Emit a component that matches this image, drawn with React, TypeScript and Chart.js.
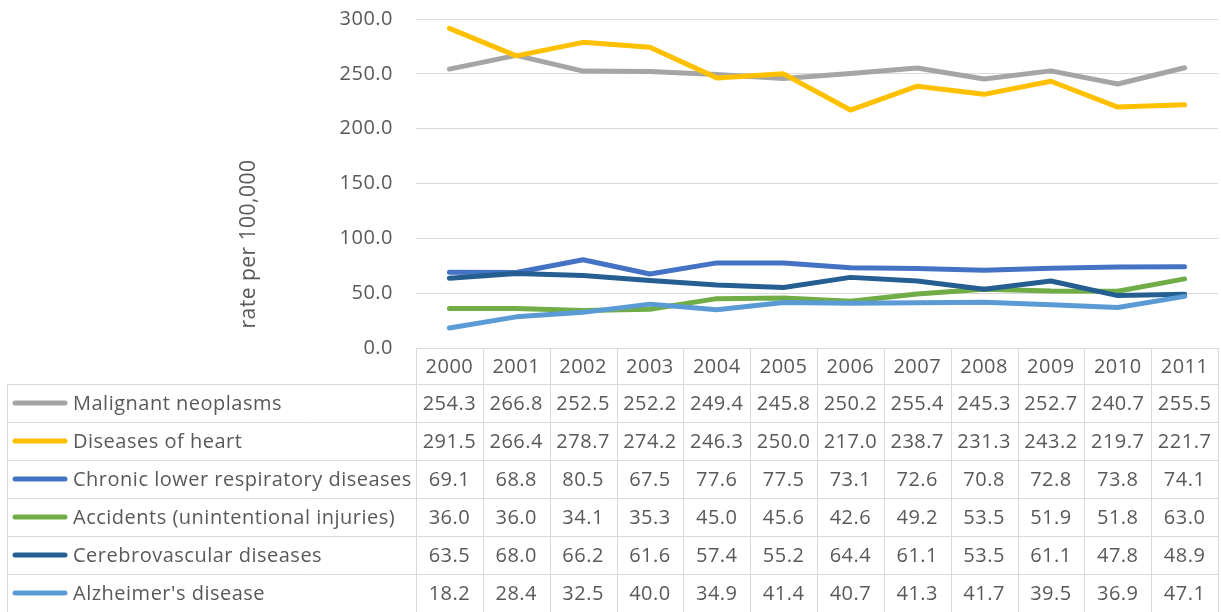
import React, { useEffect, useRef } from "react";
import { Chart, registerables } from "chart.js";

Chart.register(...registerables);

const years = ["2000", "2001", "2002", "2003", "2004", "2005", "2006", "2007", "2008", "2009", "2010", "2011"];
const seriesNames = [
  "Malignant neoplasms",
  "Diseases of heart",
  "Chronic lower respiratory diseases",
  "Accidents (unintentional injuries)",
  "Cerebrovascular diseases",
  "Alzheimer's disease",
];
const malignant = [254.3, 266.8, 252.5, 252.2, 249.4, 245.8, 250.2, 255.4, 245.3, 252.7, 240.7, 255.5];
const heart = [291.5, 266.4, 278.7, 274.2, 246.3, 250.0, 217.0, 238.7, 231.3, 243.2, 219.7, 221.7];
const chronic = [69.1, 68.8, 80.5, 67.5, 77.6, 77.5, 73.1, 72.6, 70.8, 72.8, 73.8, 74.1];
const accidents = [36.0, 36.0, 34.1, 35.3, 45.0, 45.6, 42.6, 49.2, 53.5, 51.9, 51.8, 63.0];
const cerebro = [63.5, 68.0, 66.2, 61.6, 57.4, 55.2, 64.4, 61.1, 53.5, 61.1, 47.8, 48.9];
const alzheimer = [18.2, 28.4, 32.5, 40.0, 34.9, 41.4, 40.7, 41.3, 41.7, 39.5, 36.9, 47.1];
const seriesColors = ["#A5A5A5", "#FFC000", "#4472C4", "#70AD47", "#255E91", "#5B9BD5"];
const yTitle = "rate per 100,000";

const FONT = "'Open Sans', sans-serif";
const FSIZE = 20;
const SPACING = "0.5px";
const TEXT = "#595959";
const GRID = "#D9D9D9";
const LINE_W = 5;

const allSeries = [malignant, heart, chronic, accidents, cerebro, alzheimer];

const tablePlugin = {
  id: "dataTable",
  beforeLayout(chart: any) {
    (chart.ctx as any).letterSpacing = SPACING;
  },
  beforeDraw(chart: any) {
    (chart.ctx as any).letterSpacing = SPACING;
  },
  afterDraw(chart: any) {
    const ctx = chart.ctx as CanvasRenderingContext2D;
    const area = chart.chartArea;
    const xs = chart.scales.x;
    const n = years.length;
    const colW = (area.right - area.left) / n;
    const top = area.bottom;
    const headH = 36;
    const rowH = 38;
    const tableLeft = 7;
    const bottom = top + headH + rowH * allSeries.length;
    ctx.save();
    (ctx as any).letterSpacing = SPACING;
    ctx.strokeStyle = GRID;
    ctx.lineWidth = 1;
    ctx.beginPath();
    ctx.moveTo(area.left, Math.round(top) + 0.5);
    ctx.lineTo(area.right, Math.round(top) + 0.5);
    for (let r = 0; r <= allSeries.length; r++) {
      const y = Math.round(top + headH + r * rowH) + 0.5;
      ctx.moveTo(tableLeft, y);
      ctx.lineTo(area.right, y);
    }
    for (let c = 0; c <= n; c++) {
      const x = Math.round(area.left + c * colW) + 0.5;
      ctx.moveTo(x, top);
      ctx.lineTo(x, bottom);
    }
    ctx.moveTo(tableLeft + 0.5, top + headH);
    ctx.lineTo(tableLeft + 0.5, bottom);
    ctx.stroke();

    ctx.fillStyle = TEXT;
    ctx.font = `${FSIZE}px ${FONT}`;
    ctx.textBaseline = "middle";
    ctx.textAlign = "center";
    years.forEach((yr, i) => {
      ctx.fillText(yr, xs.getPixelForValue(i), top + headH / 2 + 1);
    });
    allSeries.forEach((vals, r) => {
      const cy = top + headH + r * rowH + rowH / 2 + 1;
      ctx.textAlign = "center";
      vals.forEach((v, i) => {
        ctx.fillText(v.toFixed(1), xs.getPixelForValue(i), cy);
      });
      ctx.save();
      ctx.strokeStyle = seriesColors[r];
      ctx.lineWidth = LINE_W;
      ctx.lineCap = "round";
      ctx.beginPath();
      ctx.moveTo(tableLeft + 8, cy - 1);
      ctx.lineTo(tableLeft + 58, cy - 1);
      ctx.stroke();
      ctx.restore();
      ctx.textAlign = "left";
      ctx.fillText(seriesNames[r], tableLeft + 66, cy);
    });

    ctx.save();
    ctx.font = `21px ${FONT}`;
    ctx.translate(area.left - 167, area.bottom - 104);
    ctx.rotate(-Math.PI / 2);
    ctx.textAlign = "center";
    ctx.fillText(yTitle, 0, 0);
    ctx.restore();
    ctx.restore();
  },
};

export default function App() {
  const ref = useRef<HTMLCanvasElement | null>(null);
  useEffect(() => {
    if (!ref.current) return;
    const chart = new Chart(ref.current, {
      type: "line",
      data: {
        labels: years,
        datasets: allSeries.map((vals, i) => ({
          label: seriesNames[i],
          data: vals,
          borderColor: seriesColors[i],
          backgroundColor: seriesColors[i],
          borderWidth: LINE_W,
          pointRadius: 0,
          tension: 0,
          borderCapStyle: "round" as const,
          borderJoinStyle: "round" as const,
          order: allSeries.length - i,
        })),
      },
      options: {
        animation: false,
        responsive: true,
        maintainAspectRatio: false,
        layout: { padding: { left: 0, right: 3, top: 19, bottom: 264 } },
        plugins: { legend: { display: false }, tooltip: { enabled: false }, title: { display: false } },
        scales: {
          x: { type: "category", offset: true, display: false },
          y: {
            min: 0,
            max: 300,
            afterFit: (s: any) => {
              s.width = 416;
              s.paddingTop = 0;
              s.paddingBottom = 0;
            },
            ticks: {
              stepSize: 50,
              padding: 23,
              color: TEXT,
              font: { family: FONT, size: FSIZE },
              callback: (v: any) => Number(v).toFixed(1),
            },
            grid: { color: GRID, lineWidth: 1, drawTicks: false },
            border: { display: false },
          },
        },
      },
      plugins: [tablePlugin],
    });
    return () => chart.destroy();
  }, []);
  return (
    <div style={{ position: "absolute", left: 0, top: 0, width: 1221, height: 612, background: "#fff" }}>
      <canvas ref={ref} />
    </div>
  );
}
